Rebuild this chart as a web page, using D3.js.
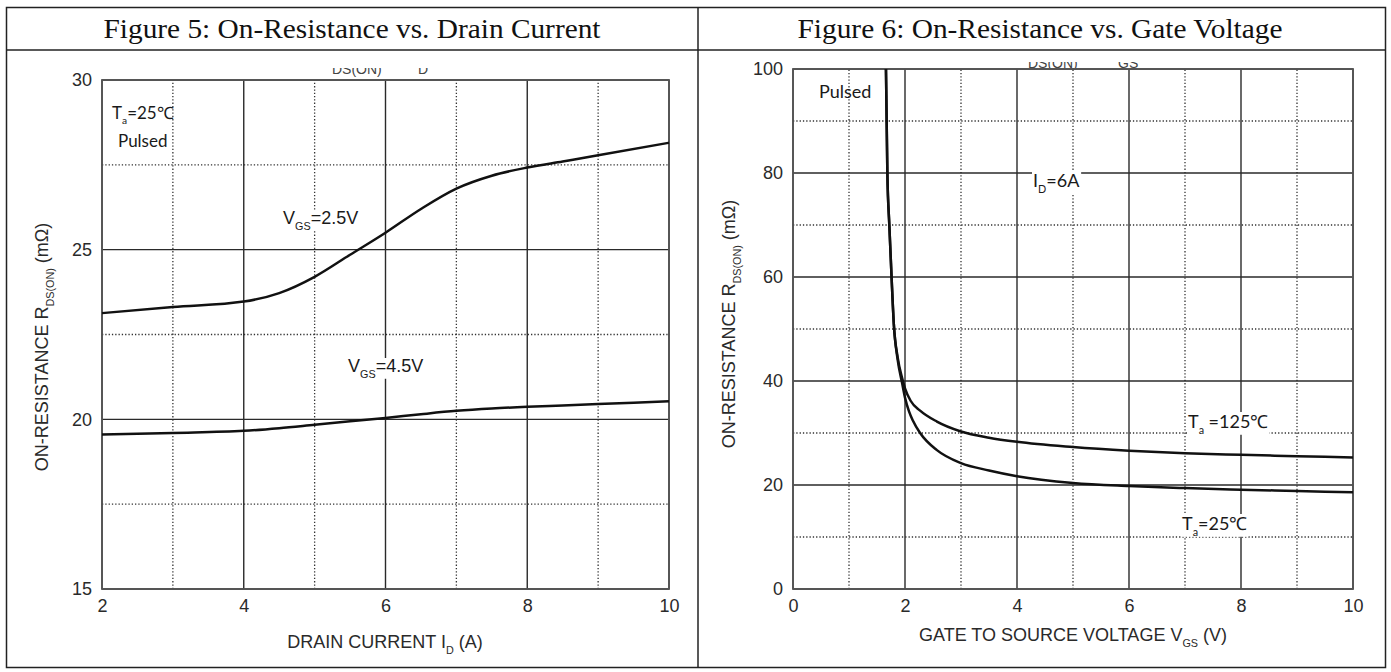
<!DOCTYPE html>
<html>
<head>
<meta charset="utf-8">
<style>
  body { margin: 0; background: #fff; }
  text { font-family: "Liberation Sans", Arial, sans-serif; }
</style>
</head>
<body>
<div id="chart"></div>
<script src="https://d3js.org/d3.v7.min.js"></script>
<script>
// ---- data ----
var figTitles = ["Figure 5: On-Resistance vs. Drain Current", "Figure 6: On-Resistance vs. Gate Voltage"];

// Figure 5: Rds(on) vs drain current
var idTicks = [2, 4, 6, 8, 10];
var idMinor = [3, 5, 7, 9];
var rdsTicks5 = [15, 20, 25, 30];
var rdsMinor5 = [17.5, 22.5, 27.5];
var idPoints = [2, 3, 4, 4.5, 5, 5.5, 6, 6.5, 7, 7.5, 8, 8.5, 9, 10];
var rdsVgs25 = [23.13, 23.31, 23.47, 23.72, 24.2, 24.85, 25.5, 26.2, 26.8, 27.18, 27.42, 27.6, 27.78, 28.15];
var rdsVgs45 = [19.55, 19.6, 19.66, 19.74, 19.84, 19.94, 20.04, 20.15, 20.25, 20.32, 20.37, 20.41, 20.45, 20.53];

// Figure 6: Rds(on) vs gate voltage
var vgsTicks = [0, 2, 4, 6, 8, 10];
var vgsMinor = [1, 3, 5, 7, 9];
var rdsTicks6 = [0, 20, 40, 60, 80, 100];
var rdsMinor6 = [10, 30, 50, 70, 90];
var vgsT125 = [1.66, 1.685, 1.72, 1.76, 1.80, 1.87, 1.95, 2.0, 2.1, 2.27, 2.57, 3, 3.5, 4, 5, 6, 7, 8, 9, 10];
var rdsT125 = [100, 80, 70, 60, 51, 44.5, 40.5, 38.6, 36.2, 34.3, 32.2, 30.3, 29.1, 28.3, 27.3, 26.6, 26.1, 25.8, 25.55, 25.3];
var vgsT25 = [1.66, 1.685, 1.72, 1.76, 1.80, 1.87, 1.95, 2.0, 2.07, 2.14, 2.27, 2.57, 3, 3.5, 4, 5, 6, 7, 8, 9, 10];
var rdsT25 = [100, 80, 70, 60, 51, 44, 39.5, 36.8, 34.2, 32.4, 30, 26.7, 24.2, 22.8, 21.7, 20.4, 19.8, 19.4, 19.1, 18.85, 18.6];

var w = 1391, h = 672;

var svg = d3.select("#chart").append("svg")
    .attr("width", w)
    .attr("height", h);

svg.append("rect").attr("width", w).attr("height", h).attr("fill", "#fff");

// table frame
svg.append("rect")
    .attr("x", 6.5).attr("y", 7.5)
    .attr("width", 1379).attr("height", 660)
    .attr("fill", "none").attr("stroke", "#222").attr("stroke-width", 1.5);
svg.append("line").attr("x1", 6.5).attr("x2", 1385.5).attr("y1", 50).attr("y2", 50)
    .attr("stroke", "#222").attr("stroke-width", 1.5);
svg.append("line").attr("x1", 698).attr("x2", 698).attr("y1", 7.5).attr("y2", 667.5)
    .attr("stroke", "#222").attr("stroke-width", 1.5);

svg.selectAll("text.fig")
    .data(figTitles)
    .enter()
    .append("text")
    .attr("class", "fig")
    .attr("x", function (d, i) { return i == 0 ? 352 : 1040; })
    .attr("y", 38)
    .attr("text-anchor", "middle")
    .attr("textLength", function (d, i) { return i == 0 ? 497 : 485; })
    .attr("lengthAdjust", "spacingAndGlyphs")
    .style("font-family", "'Liberation Serif', 'Times New Roman', serif")
    .style("font-size", "27px")
    .attr("fill", "#111")
    .text(function (d) { return d; });

// adds text made of [string, isSub] parts
function richText(g, x, y, parts, size, family, anchor) {
    var t = g.append("text")
        .attr("x", x).attr("y", y)
        .attr("text-anchor", anchor || "start")
        .style("font-size", size + "px")
        .style("font-family", family)
        .attr("fill", "#1a1a1a");
    var shifted = false;
    parts.forEach(function (p) {
        var s = t.append("tspan").text(p[0]);
        if (p[1] && !shifted) {
            s.attr("dy", size * 0.32).style("font-size", (size * 0.6) + "px");
            shifted = true;
        } else if (!p[1] && shifted) {
            s.attr("dy", -size * 0.32);
            shifted = false;
        } else if (p[1]) {
            s.style("font-size", (size * 0.6) + "px");
        }
    });
    return t;
}

function withBackground(g, t) {
    var b = t.node().getBBox();
    g.insert("rect", function () { return t.node(); })
        .attr("x", b.x - 1).attr("y", b.y + 2)
        .attr("width", b.width + 2).attr("height", b.height - 3)
        .attr("fill", "#fff");
}

function drawPanel(cfg) {
    var g = svg.append("g");
    var x = d3.scaleLinear().domain(cfg.xDomain).range(cfg.xRange);
    var y = d3.scaleLinear().domain(cfg.yDomain).range(cfg.yRange);

    // minor dotted grid
    g.selectAll("line.vminor").data(cfg.xMinor).enter().append("line")
        .attr("x1", function (d) { return x(d); }).attr("x2", function (d) { return x(d); })
        .attr("y1", cfg.yRange[0]).attr("y2", cfg.yRange[1])
        .attr("stroke", "#333").attr("stroke-width", 1.3).attr("stroke-dasharray", "1.3,2");
    g.selectAll("line.hminor").data(cfg.yMinor).enter().append("line")
        .attr("y1", function (d) { return y(d); }).attr("y2", function (d) { return y(d); })
        .attr("x1", cfg.xRange[0]).attr("x2", cfg.xRange[1])
        .attr("stroke", "#333").attr("stroke-width", 1.3).attr("stroke-dasharray", "1.3,2");

    // major solid grid
    g.selectAll("line.vmajor").data(cfg.xTicks).enter().append("line")
        .attr("x1", function (d) { return x(d); }).attr("x2", function (d) { return x(d); })
        .attr("y1", cfg.yRange[0]).attr("y2", cfg.yRange[1])
        .attr("stroke", "#2a2a2a").attr("stroke-width", 1.4);
    g.selectAll("line.hmajor").data(cfg.yTicks).enter().append("line")
        .attr("y1", function (d) { return y(d); }).attr("y2", function (d) { return y(d); })
        .attr("x1", cfg.xRange[0]).attr("x2", cfg.xRange[1])
        .attr("stroke", "#2a2a2a").attr("stroke-width", 1.4);

    g.append("rect")
        .attr("x", cfg.xRange[0]).attr("y", cfg.yRange[1])
        .attr("width", cfg.xRange[1] - cfg.xRange[0])
        .attr("height", cfg.yRange[0] - cfg.yRange[1])
        .attr("fill", "none").attr("stroke", "#555").attr("stroke-width", 1.8);

    // tick labels
    var xa = g.append("g")
        .attr("transform", "translate(0," + cfg.yRange[0] + ")")
        .call(d3.axisBottom(x).tickValues(cfg.xTicks).tickSize(0).tickPadding(10).tickFormat(d3.format("d")));
    var ya = g.append("g")
        .attr("transform", "translate(" + cfg.xRange[0] + ",0)")
        .call(d3.axisLeft(y).tickValues(cfg.yTicks).tickSize(0).tickPadding(10).tickFormat(d3.format("d")));
    [xa, ya].forEach(function (a) {
        a.select(".domain").remove();
        a.selectAll("text")
            .style("font-family", "'Liberation Sans', Arial, sans-serif")
            .style("font-size", "18px")
            .attr("fill", "#2a2a2a");
    });

    // axis titles
    var xt = richText(g, cfg.xTitlePos[0], cfg.xTitlePos[1], cfg.xTitle, 18, "'Liberation Sans', Arial, sans-serif", "middle");
    xt.attr("fill", "#2a2a2a");
    var yt = richText(g, 0, 0, cfg.yTitle, 18, "'Liberation Sans', Arial, sans-serif", "middle");
    yt.attr("fill", "#2a2a2a")
        .attr("transform", "translate(" + cfg.yTitlePos[0] + "," + cfg.yTitlePos[1] + ") rotate(-90)");

    // curves
    var line = d3.line()
        .x(function (d) { return x(d[0]); })
        .y(function (d) { return y(d[1]); })
        .curve(d3.curveMonotoneX);
    cfg.series.forEach(function (s) {
        var pts = s.xs.map(function (v, i) { return [v, s.ys[i]]; });
        g.append("path")
            .attr("d", line(pts))
            .attr("fill", "none")
            .attr("stroke", "#111")
            .attr("stroke-width", 2.5);
    });

    cfg.notes.forEach(function (n) {
        var t = richText(g, n.x, n.y, n.parts, n.size, n.family);
        if (n.bg) withBackground(g, t);
    });

    // clipped remains of the original sub-caption
    var cid = "clip" + cfg.id;
    svg.append("clipPath").attr("id", cid).append("rect")
        .attr("x", cfg.xRange[0]).attr("y", cfg.capClip[0])
        .attr("width", cfg.xRange[1] - cfg.xRange[0])
        .attr("height", cfg.capClip[1] - cfg.capClip[0]);
    var cap = g.append("g").attr("clip-path", "url(#" + cid + ")");
    cfg.caption.forEach(function (c) {
        cap.append("text")
            .attr("x", c[0]).attr("y", c[1])
            .style("font-size", "14px")
            .attr("fill", "#444")
            .text(c[2]);
    });
}

var sans = "'Liberation Sans', Arial, sans-serif";
var cal = "Lato, 'Open Sans', sans-serif";

drawPanel({
    id: 5,
    xDomain: [2, 10], xRange: [102, 669],
    yDomain: [15, 30], yRange: [589, 80],
    xTicks: idTicks, xMinor: idMinor,
    yTicks: rdsTicks5, yMinor: rdsMinor5,
    xTitle: [["DRAIN CURRENT I"], ["D", true], [" (A)"]],
    xTitlePos: [385, 648],
    yTitle: [["ON-RESISTANCE R"], ["DS(ON)", true], [" (mΩ)"]],
    yTitlePos: [48, 347],
    series: [
        { xs: idPoints, ys: rdsVgs25 },
        { xs: idPoints, ys: rdsVgs45 }
    ],
    notes: [
        { x: 112, y: 119, parts: [["T"], ["a", true], ["=25℃"]], size: 17, family: cal },
        { x: 118, y: 147, parts: [["Pulsed"]], size: 17, family: cal, bg: true },
        { x: 283, y: 224, parts: [["V"], ["GS", true], ["=2.5V"]], size: 18, family: sans, bg: true },
        { x: 348, y: 372, parts: [["V"], ["GS", true], ["=4.5V"]], size: 18, family: sans, bg: true }
    ],
    caption: [[332, 74, "DS(ON)"], [418, 74, "D"]],
    capClip: [68, 79]
});

drawPanel({
    id: 6,
    xDomain: [0, 10], xRange: [793, 1353],
    yDomain: [0, 100], yRange: [589, 69],
    xTicks: vgsTicks, xMinor: vgsMinor,
    yTicks: rdsTicks6, yMinor: rdsMinor6,
    xTitle: [["GATE TO SOURCE VOLTAGE V"], ["GS", true], [" (V)"]],
    xTitlePos: [1073, 641],
    yTitle: [["ON-RESISTANCE R"], ["DS(ON)", true], [" (mΩ)"]],
    yTitlePos: [735, 324],
    series: [
        { xs: vgsT125, ys: rdsT125 },
        { xs: vgsT25, ys: rdsT25 }
    ],
    notes: [
        { x: 819, y: 98, parts: [["Pulsed"]], size: 18, family: cal },
        { x: 1033, y: 187, parts: [["I"], ["D", true], ["=6A"]], size: 18, family: cal, bg: true },
        { x: 1188, y: 428, parts: [["T"], ["a", true], [" =125℃"]], size: 18, family: cal, bg: true },
        { x: 1182, y: 530, parts: [["T"], ["a", true], ["=25℃"]], size: 18, family: cal, bg: true }
    ],
    caption: [[1028, 68, "DS(ON)"], [1118, 68, "GS"]],
    capClip: [62, 68]
});
</script>
</body>
</html>
